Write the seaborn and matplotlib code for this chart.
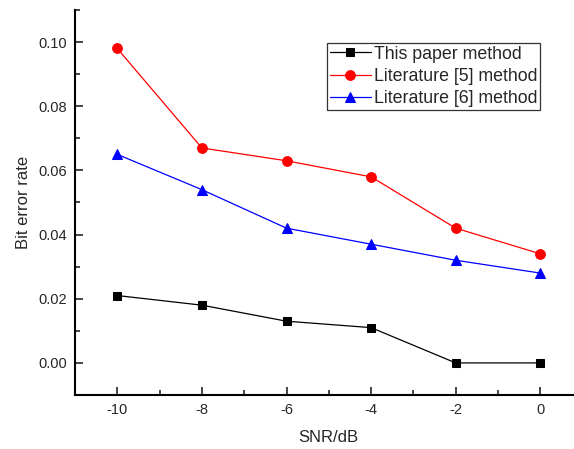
import matplotlib
matplotlib.use("Agg")
import matplotlib.pyplot as plt
import seaborn as sns
import pandas as pd
from matplotlib.ticker import MultipleLocator

snr = [-10, -8, -6, -4, -2, 0]
this_paper = [0.021, 0.018, 0.013, 0.011, 0.0, 0.0]
lit5 = [0.098, 0.067, 0.063, 0.058, 0.042, 0.034]
lit6 = [0.065, 0.054, 0.042, 0.037, 0.032, 0.028]
names = ["This paper method", "Literature [5] method", "Literature [6] method"]

rows = []
for name, vals in zip(names, [this_paper, lit5, lit6]):
    for x, y in zip(snr, vals):
        rows.append({"SNR": x, "BER": y, "method": name})
df = pd.DataFrame(rows)

sns.set_style("ticks")
plt.rcParams["font.family"] = ["Liberation Sans", "DejaVu Sans"]
plt.rcParams["axes.unicode_minus"] = False

fig = plt.figure(figsize=(5.74, 4.49), dpi=100)
ax = fig.add_axes([75/574, 54/449, 507.6/574, 385/449])

palette = {names[0]: "black", names[1]: "red", names[2]: "blue"}
markers = {names[0]: "s", names[1]: "o", names[2]: "^"}
sizes = {names[0]: 6, names[1]: 7, names[2]: 7.5}
for name in names:
    sub = df[df["method"] == name]
    sns.lineplot(data=sub, x="SNR", y="BER", ax=ax, color=palette[name],
                 marker=markers[name], markersize=sizes[name], linewidth=0.9,
                 markeredgecolor=palette[name], label=name)

ax.set_xlim(-11, 1)
ax.set_ylim(-0.01, 0.11)
ax.xaxis.set_major_locator(MultipleLocator(2))
ax.xaxis.set_minor_locator(MultipleLocator(1))
ax.yaxis.set_major_locator(MultipleLocator(0.02))
ax.yaxis.set_minor_locator(MultipleLocator(0.01))
ax.yaxis.set_major_formatter(matplotlib.ticker.FormatStrFormatter("%.2f"))
ax.tick_params(which="major", direction="in", length=6, width=1.2, labelsize=10.5, pad=6)
ax.tick_params(which="minor", direction="in", length=3.5, width=1.2)
for s in ["top", "right"]:
    ax.spines[s].set_visible(False)
for s in ["left", "bottom"]:
    ax.spines[s].set_linewidth(1.5)
    ax.spines[s].set_color("black")

ax.set_xlabel("SNR/dB", fontsize=12, labelpad=9)
ax.set_ylabel("Bit error rate", fontsize=12, labelpad=5)

leg = ax.legend(loc="upper left", bbox_to_anchor=(252/507.6, (395-43)/385), fontsize=12.8,
                frameon=True, fancybox=False, edgecolor="black", borderpad=0.15,
                handlelength=2.3, handletextpad=0.2, labelspacing=0.3, borderaxespad=0)
leg.get_frame().set_linewidth(0.9)

fig.savefig("out.png", dpi=100)
